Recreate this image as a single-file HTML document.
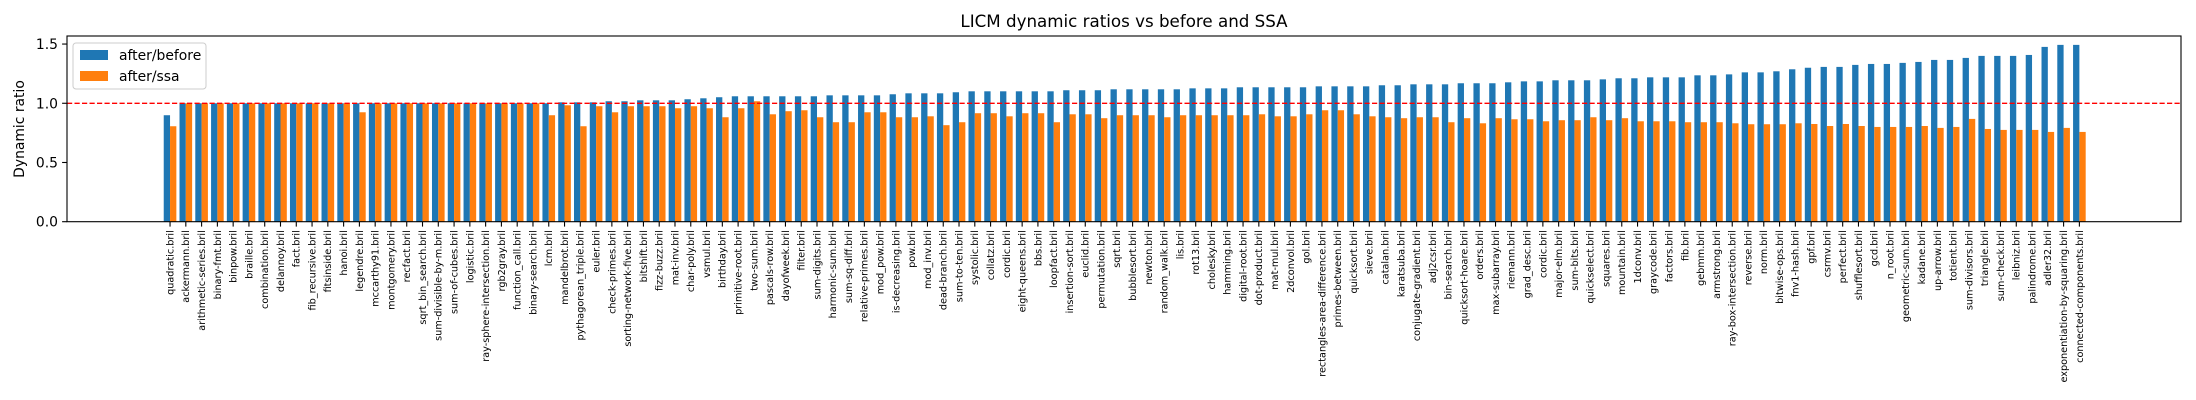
<!DOCTYPE html>
<html><head><meta charset="utf-8">
<style>
html,body{margin:0;padding:0;background:#fff;}
svg{display:block;font-family:"DejaVu Sans","Liberation Sans",sans-serif;}
</style></head>
<body>
<svg id="chart" width="2196" height="400" viewBox="0 0 2196 400" xmlns="http://www.w3.org/2000/svg">
<rect width="2196" height="400" fill="#fff"/>
<text x="1124" y="27" font-size="16.7" text-anchor="middle" fill="#000">LICM dynamic ratios vs before and SSA</text>
<text transform="translate(24,129) rotate(-90)" font-size="13.9" text-anchor="middle" fill="#000">Dynamic ratio</text>
<g id="bars"></g>
<g id="xticks"></g>
<g id="yticks"></g>
<line id="refline" stroke="#ff0000" stroke-width="1.4" stroke-dasharray="5.2,2.3"/>
<rect x="67" y="36" width="2114" height="185.7" fill="none" stroke="#000" stroke-width="1.1"/>
<g>
<rect x="73" y="43" width="133" height="46" rx="3" fill="#fff" fill-opacity="0.8" stroke="#ccc" stroke-width="1"/>
<rect x="80" y="50" width="28" height="10" fill="#1f77b4"/>
<text x="119" y="60" font-size="13.9" fill="#000">after/before</text>
<rect x="80" y="71" width="28" height="10" fill="#ff7f0e"/>
<text x="119" y="81" font-size="13.9" fill="#000">after/ssa</text>
</g>
</svg>
<script>
const categories = ["quadratic.bril","ackermann.bril","arithmetic-series.bril","binary-fmt.bril","binpow.bril","braille.bril","combination.bril","delannoy.bril","fact.bril","fib_recursive.bril","fitsinside.bril","hanoi.bril","legendre.bril","mccarthy91.bril","montgomery.bril","recfact.bril","sqrt_bin_search.bril","sum-divisible-by-m.bril","sum-of-cubes.bril","logistic.bril","ray-sphere-intersection.bril","rgb2gray.bril","function_call.bril","binary-search.bril","lcm.bril","mandelbrot.bril","pythagorean_triple.bril","euler.bril","check-primes.bril","sorting-network-five.bril","bitshift.bril","fizz-buzz.bril","mat-inv.bril","char-poly.bril","vsmul.bril","birthday.bril","primitive-root.bril","two-sum.bril","pascals-row.bril","dayofweek.bril","filter.bril","sum-digits.bril","harmonic-sum.bril","sum-sq-diff.bril","relative-primes.bril","mod_pow.bril","is-decreasing.bril","pow.bril","mod_inv.bril","dead-branch.bril","sum-to-ten.bril","systolic.bril","collatz.bril","cordic.bril","eight-queens.bril","bbs.bril","loopfact.bril","insertion-sort.bril","euclid.bril","permutation.bril","sqrt.bril","bubblesort.bril","newton.bril","random_walk.bril","lis.bril","rot13.bril","cholesky.bril","hamming.bril","digital-root.bril","dot-product.bril","mat-mul.bril","2dconvol.bril","gol.bril","rectangles-area-difference.bril","primes-between.bril","quicksort.bril","sieve.bril","catalan.bril","karatsuba.bril","conjugate-gradient.bril","adj2csr.bril","bin-search.bril","quicksort-hoare.bril","orders.bril","max-subarray.bril","riemann.bril","grad_desc.bril","cordic.bril","major-elm.bril","sum-bits.bril","quickselect.bril","squares.bril","mountain.bril","1dconv.bril","graycode.bril","factors.bril","fib.bril","gebmm.bril","armstrong.bril","ray-box-intersection.bril","reverse.bril","norm.bril","bitwise-ops.bril","fnv1-hash.bril","gpf.bril","csrmv.bril","perfect.bril","shufflesort.bril","gcd.bril","n_root.bril","geometric-sum.bril","kadane.bril","up-arrow.bril","totient.bril","sum-divisors.bril","triangle.bril","sum-check.bril","leibniz.bril","palindrome.bril","adler32.bril","exponentiation-by-squaring.bril","connected-components.bril"];
const afterBefore = [0.899,1,1,1,1,1,1,1,1,1,1,1,1,1,1,1,1,1,1,1,1,1,1,1,1,1.008,1.008,1.008,1.017,1.017,1.025,1.025,1.025,1.034,1.042,1.051,1.059,1.059,1.059,1.059,1.059,1.059,1.067,1.067,1.067,1.067,1.076,1.084,1.084,1.084,1.093,1.101,1.101,1.101,1.101,1.101,1.101,1.11,1.11,1.11,1.118,1.118,1.118,1.118,1.118,1.126,1.126,1.126,1.135,1.135,1.135,1.135,1.135,1.143,1.143,1.143,1.143,1.152,1.152,1.16,1.16,1.16,1.169,1.169,1.169,1.177,1.185,1.185,1.194,1.194,1.194,1.202,1.211,1.211,1.219,1.219,1.219,1.236,1.236,1.244,1.261,1.261,1.27,1.287,1.30,1.307,1.307,1.324,1.332,1.332,1.341,1.349,1.366,1.366,1.383,1.40,1.40,1.40,1.408,1.476,1.493,1.493];
const afterSsa = [0.806,1,1,1,1,1,1,1,1,1,1,1,0.924,1,1,1,1,1,1,1,1,1,1,1,0.899,0.983,0.806,0.975,0.924,0.975,0.975,0.975,0.958,0.975,0.958,0.882,0.958,1.017,0.907,0.933,0.941,0.882,0.84,0.84,0.924,0.924,0.882,0.882,0.89,0.815,0.84,0.916,0.916,0.89,0.916,0.916,0.84,0.907,0.907,0.874,0.899,0.899,0.899,0.882,0.899,0.899,0.899,0.899,0.899,0.907,0.89,0.89,0.907,0.941,0.941,0.907,0.89,0.882,0.874,0.882,0.882,0.84,0.874,0.831,0.874,0.865,0.865,0.848,0.857,0.857,0.882,0.857,0.874,0.848,0.848,0.848,0.84,0.84,0.84,0.831,0.823,0.823,0.823,0.831,0.825,0.808,0.825,0.808,0.8,0.8,0.8,0.808,0.792,0.8,0.868,0.783,0.775,0.775,0.775,0.758,0.792,0.758];
const yTicks = [0.0, 0.5, 1.0, 1.5];
const yTickLabels = ["0.0","0.5","1.0","1.5"];
const refValue = 1.0;

const NS = "http://www.w3.org/2000/svg";
const PL = 67, PR = 2181, PT = 36, PB = 221.7;
const n = categories.length;
const xMin = -6.53, xMax = (n - 1) + 6.44;
const yMin = 0, yMax = 1.568;
function xScale(v){ return PL + (v - xMin) / (xMax - xMin) * (PR - PL); }
function yScale(v){ return PB - (v - yMin) / (yMax - yMin) * (PB - PT); }
const unit = (PR - PL) / (xMax - xMin);
const bw = 0.4 * unit;

const bars = document.getElementById('bars');
const xt = document.getElementById('xticks');
for (let i = 0; i < n; i++) {
  const cx = xScale(i);
  const b = document.createElementNS(NS, 'rect');
  b.setAttribute('x', cx - bw); b.setAttribute('width', bw);
  b.setAttribute('y', yScale(afterBefore[i])); b.setAttribute('height', yScale(0) - yScale(afterBefore[i]));
  b.setAttribute('fill', '#1f77b4');
  
  
  bars.appendChild(b);
  const o = document.createElementNS(NS, 'rect');
  o.setAttribute('x', cx); o.setAttribute('width', bw);
  o.setAttribute('y', yScale(afterSsa[i])); o.setAttribute('height', yScale(0) - yScale(afterSsa[i]));
  o.setAttribute('fill', '#ff7f0e');
  
  
  bars.appendChild(o);
  const t = document.createElementNS(NS, 'line');
  t.setAttribute('x1', cx); t.setAttribute('x2', cx); t.setAttribute('y1', PB); t.setAttribute('y2', PB + 4.9);
  t.setAttribute('stroke', '#000'); t.setAttribute('stroke-width', '1.1');
  
  
  xt.appendChild(t);
  const l = document.createElementNS(NS, 'text');
  l.setAttribute('transform', 'translate(' + (cx + 3.4) + ',' + (PB + 8.5) + ') rotate(-90)');
  l.setAttribute('text-anchor', 'end'); l.setAttribute('font-size', '9.7'); l.setAttribute('fill', '#000');
  l.textContent = categories[i];
  
  
  xt.appendChild(l);
}
const yt = document.getElementById('yticks');
for (let k = 0; k < yTicks.length; k++) {
  const y = yScale(yTicks[k]);
  const t = document.createElementNS(NS, 'line');
  t.setAttribute('x1', PL - 4.9); t.setAttribute('x2', PL); t.setAttribute('y1', y); t.setAttribute('y2', y);
  t.setAttribute('stroke', '#000'); t.setAttribute('stroke-width', '1.1');
  
  
  yt.appendChild(t);
  const l = document.createElementNS(NS, 'text');
  l.setAttribute('x', PL - 9); l.setAttribute('y', y + 5);
  l.setAttribute('text-anchor', 'end'); l.setAttribute('font-size', '13.9'); l.setAttribute('fill', '#000');
  l.textContent = yTickLabels[k];
  
  
  yt.appendChild(l);
}
const rl = document.getElementById('refline');
rl.setAttribute('x1', PL); rl.setAttribute('x2', PR);
rl.setAttribute('y1', yScale(refValue)); rl.setAttribute('y2', yScale(refValue));
</script>
</body></html>
